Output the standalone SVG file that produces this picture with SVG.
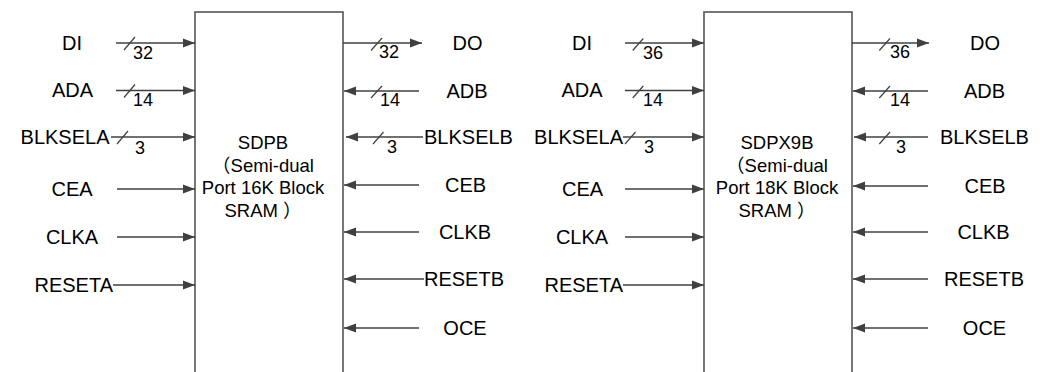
<svg xmlns="http://www.w3.org/2000/svg" width="1043" height="372" viewBox="0 0 1043 372">
<style>
text{font-family:"Liberation Sans","Noto Sans CJK SC",Arial,sans-serif;fill:#000}
.lbl{font-size:20px}
.mid{text-anchor:middle}
.end{text-anchor:end}
.num{font-size:18px}
.box{fill:#fff;stroke:#555;stroke-width:1.6}
.btxt{font-size:18.5px;text-anchor:middle}
.w{stroke:#404040;stroke-width:1.4;fill:none}
.wa{stroke:#404040;stroke-width:1.4;fill:none;marker-end:url(#ah)}
.sl{stroke:#404040;stroke-width:1.2;fill:none}
</style>
<defs>
<marker id="ah" markerUnits="userSpaceOnUse" markerWidth="12" markerHeight="10" refX="12" refY="5" orient="auto">
<path d="M0,0.5 L12,5 L0,9.5 z" fill="#404040"/>
</marker>
</defs>
<rect width="1043" height="372" fill="#fff"/>

<g id="sdpb">
<rect class="box" x="195" y="12" width="148" height="372"/>
<text class="btxt" x="263" y="149">SDPB</text>
<text class="btxt" x="263" y="172">（Semi-dual</text>
<text class="btxt" x="263" y="194">Port 16K Block</text>
<text class="btxt" x="263" y="217">SRAM ）</text>
</g>

<g id="sdpx9b">
<rect class="box" x="704" y="12" width="148" height="372"/>
<text class="btxt" x="777" y="149">SDPX9B</text>
<text class="btxt" x="777" y="172">（Semi-dual</text>
<text class="btxt" x="777" y="194">Port 18K Block</text>
<text class="btxt" x="777" y="217">SRAM ）</text>
</g>

<g id="connectors">
<!-- left diagram inputs -->
<line class="wa" x1="116" y1="43" x2="195" y2="43"/>
<line class="wa" x1="116" y1="90.5" x2="195" y2="90.5"/>
<line class="wa" x1="111" y1="137" x2="195" y2="137"/>
<line class="wa" x1="117" y1="189" x2="195" y2="189"/>
<line class="wa" x1="117" y1="237" x2="195" y2="237"/>
<line class="wa" x1="113" y1="285" x2="195" y2="285"/>
<!-- left diagram right side -->
<line class="wa" x1="343" y1="43" x2="422" y2="43"/>
<line class="wa" x1="419" y1="91" x2="344" y2="91"/>
<line class="wa" x1="423" y1="137" x2="346" y2="137"/>
<line class="wa" x1="419" y1="185" x2="344" y2="185"/>
<line class="wa" x1="419" y1="232" x2="344" y2="232"/>
<line class="wa" x1="424" y1="279" x2="344" y2="279"/>
<line class="wa" x1="419" y1="328" x2="344" y2="328"/>
<!-- right diagram inputs -->
<line class="wa" x1="625" y1="43" x2="704" y2="43"/>
<line class="wa" x1="625" y1="90.5" x2="704" y2="90.5"/>
<line class="wa" x1="623" y1="137" x2="704" y2="137"/>
<line class="wa" x1="625" y1="189" x2="704" y2="189"/>
<line class="wa" x1="625" y1="237" x2="704" y2="237"/>
<line class="wa" x1="623" y1="285" x2="704" y2="285"/>
<!-- right diagram right side -->
<line class="wa" x1="852" y1="43" x2="929" y2="43"/>
<line class="wa" x1="928" y1="91" x2="853" y2="91"/>
<line class="wa" x1="928" y1="137" x2="854" y2="137"/>
<line class="wa" x1="928" y1="186" x2="853" y2="186"/>
<line class="wa" x1="928" y1="232" x2="853" y2="232"/>
<line class="wa" x1="928" y1="279" x2="853" y2="279"/>
<line class="wa" x1="928" y1="328" x2="853" y2="328"/>
<!-- bus slashes -->
<line class="sl" x1="124" y1="50" x2="135" y2="37"/>
<line class="sl" x1="124" y1="97.5" x2="135" y2="84.5"/>
<line class="sl" x1="117" y1="144" x2="128" y2="131"/>
<line class="sl" x1="371" y1="50.5" x2="382" y2="38"/>
<line class="sl" x1="371" y1="98" x2="382" y2="86"/>
<line class="sl" x1="373" y1="144" x2="383.5" y2="132"/>
<line class="sl" x1="632.7" y1="50.5" x2="643.3" y2="38.5"/>
<line class="sl" x1="632.7" y1="98" x2="643.3" y2="86"/>
<line class="sl" x1="625" y1="144" x2="635.5" y2="132"/>
<line class="sl" x1="879.3" y1="50.5" x2="890" y2="38.5"/>
<line class="sl" x1="879.3" y1="98" x2="890" y2="86"/>
<line class="sl" x1="879.3" y1="144" x2="890" y2="132"/>
<!-- bus widths -->
<text class="num" x="133" y="59">32</text>
<text class="num" x="133" y="106">14</text>
<text class="num" x="135" y="154">3</text>
<text class="num" x="379" y="58">32</text>
<text class="num" x="380" y="106">14</text>
<text class="num" x="387" y="153">3</text>
<text class="num" x="643" y="59">36</text>
<text class="num" x="643" y="106">14</text>
<text class="num" x="644" y="153">3</text>
<text class="num" x="890" y="58">36</text>
<text class="num" x="890" y="106">14</text>
<text class="num" x="896" y="153">3</text>
</g>

<g id="ports-sdpb">
<text class="lbl mid" x="72" y="49.5">DI</text>
<text class="lbl mid" x="72.5" y="97">ADA</text>
<text class="lbl end" x="109.5" y="143.5">BLKSELA</text>
<text class="lbl mid" x="72" y="195.5">CEA</text>
<text class="lbl mid" x="72" y="243.5">CLKA</text>
<text class="lbl end" x="113" y="291.5">RESETA</text>
<text class="lbl mid" x="467.5" y="49.5">DO</text>
<text class="lbl mid" x="467" y="97.5">ADB</text>
<text class="lbl" x="424" y="143.5">BLKSELB</text>
<text class="lbl mid" x="465.5" y="191.5">CEB</text>
<text class="lbl mid" x="465" y="238.5">CLKB</text>
<text class="lbl" x="424" y="285.5">RESETB</text>
<text class="lbl mid" x="465" y="334.5">OCE</text>
</g>

<g id="ports-sdpx9b">
<text class="lbl mid" x="582" y="49.5">DI</text>
<text class="lbl mid" x="582" y="97">ADA</text>
<text class="lbl end" x="623" y="143.5">BLKSELA</text>
<text class="lbl mid" x="582.5" y="195.5">CEA</text>
<text class="lbl mid" x="582" y="243.5">CLKA</text>
<text class="lbl end" x="623" y="291.5">RESETA</text>
<text class="lbl mid" x="985" y="49.5">DO</text>
<text class="lbl mid" x="984.5" y="97.5">ADB</text>
<text class="lbl mid" x="984.5" y="143.5">BLKSELB</text>
<text class="lbl mid" x="985" y="192.5">CEB</text>
<text class="lbl mid" x="983.5" y="238.5">CLKB</text>
<text class="lbl mid" x="984" y="285.5">RESETB</text>
<text class="lbl mid" x="984.5" y="334.5">OCE</text>
</g>
</svg>
